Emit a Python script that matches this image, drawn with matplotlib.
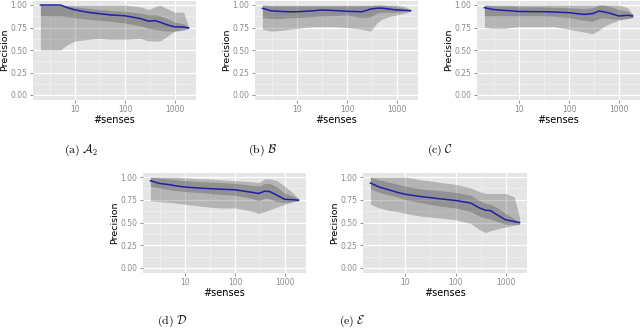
import numpy as np
import matplotlib
matplotlib.use("Agg")
import matplotlib.pyplot as plt

# --- data ---
senses = [2, 3, 5, 7, 10, 20, 30, 50, 100, 200, 300, 400, 500, 700, 1000, 1500, 1900]

a_mean = [1.0, 1.0, 1.0, 0.97, 0.945, 0.915, 0.905, 0.89, 0.88, 0.85, 0.82, 0.826, 0.81, 0.78, 0.757, 0.755, 0.745]
a_in_hi = [1.0, 1.0, 1.0, 0.99, 0.98, 0.96, 0.95, 0.94, 0.93, 0.91, 0.89, 0.89, 0.88, 0.85, 0.81, 0.79, 0.76]
a_in_lo = [0.88, 0.88, 0.88, 0.87, 0.86, 0.84, 0.83, 0.82, 0.80, 0.77, 0.74, 0.73, 0.72, 0.71, 0.71, 0.72, 0.74]
a_out_hi = [1.0, 1.0, 1.0, 1.0, 1.0, 1.0, 1.0, 1.0, 1.0, 0.98, 0.95, 0.98, 1.0, 0.96, 0.92, 0.92, 0.76]
a_out_lo = [0.5, 0.5, 0.5, 0.56, 0.6, 0.62, 0.63, 0.62, 0.62, 0.63, 0.6, 0.6, 0.6, 0.65, 0.71, 0.73, 0.74]

b_mean = [0.963, 0.935, 0.928, 0.925, 0.925, 0.935, 0.944, 0.94, 0.93, 0.925, 0.955, 0.965, 0.965, 0.955, 0.945, 0.94, 0.937]
b_in_hi = [1.0, 0.99, 0.99, 0.99, 0.99, 0.99, 0.99, 0.99, 0.99, 0.99, 0.995, 1.0, 1.0, 0.99, 0.98, 0.96, 0.94]
b_in_lo = [0.86, 0.85, 0.85, 0.86, 0.86, 0.87, 0.88, 0.88, 0.89, 0.86, 0.87, 0.91, 0.92, 0.92, 0.92, 0.93, 0.935]
b_out_hi = [1.0, 1.0, 1.0, 1.0, 1.0, 1.0, 1.0, 1.0, 1.0, 1.0, 1.0, 1.0, 1.0, 1.0, 1.0, 0.98, 0.95]
b_out_lo = [0.73, 0.71, 0.72, 0.73, 0.74, 0.76, 0.76, 0.76, 0.75, 0.73, 0.71, 0.80, 0.84, 0.87, 0.89, 0.91, 0.93]

c_mean = [0.97, 0.95, 0.94, 0.935, 0.928, 0.926, 0.926, 0.922, 0.915, 0.895, 0.905, 0.933, 0.925, 0.905, 0.878, 0.885, 0.878]
c_in_hi = [1.0, 0.99, 0.99, 0.99, 0.98, 0.98, 0.98, 0.975, 0.97, 0.96, 0.97, 1.0, 1.0, 0.98, 0.95, 0.93, 0.9]
c_in_lo = [0.88, 0.88, 0.88, 0.88, 0.88, 0.88, 0.88, 0.875, 0.86, 0.83, 0.82, 0.85, 0.86, 0.85, 0.84, 0.85, 0.86]
c_out_hi = [1.0, 1.0, 1.0, 1.0, 1.0, 1.0, 1.0, 1.0, 1.0, 1.0, 1.0, 1.0, 1.0, 1.0, 1.0, 0.97, 0.9]
c_out_lo = [0.75, 0.74, 0.74, 0.75, 0.76, 0.76, 0.76, 0.76, 0.73, 0.70, 0.68, 0.72, 0.76, 0.80, 0.83, 0.85, 0.86]

d_mean = [0.96, 0.93, 0.915, 0.9, 0.89, 0.878, 0.873, 0.867, 0.86, 0.835, 0.82, 0.845, 0.84, 0.80, 0.755, 0.75, 0.745]
d_in_hi = [1.0, 0.99, 0.98, 0.97, 0.96, 0.95, 0.945, 0.94, 0.93, 0.91, 0.90, 0.93, 0.93, 0.89, 0.82, 0.79, 0.76]
d_in_lo = [0.9, 0.88, 0.86, 0.85, 0.84, 0.83, 0.82, 0.81, 0.80, 0.77, 0.74, 0.77, 0.76, 0.73, 0.72, 0.73, 0.74]
d_out_hi = [1.0, 1.0, 1.0, 1.0, 0.99, 0.98, 0.98, 0.97, 0.96, 0.95, 0.94, 0.98, 0.98, 0.96, 0.9, 0.82, 0.76]
d_out_lo = [0.74, 0.73, 0.72, 0.71, 0.70, 0.68, 0.67, 0.66, 0.66, 0.63, 0.60, 0.62, 0.64, 0.67, 0.70, 0.73, 0.74]

e_mean = [0.934, 0.89, 0.855, 0.83, 0.81, 0.786, 0.775, 0.76, 0.742, 0.715, 0.66, 0.635, 0.63, 0.58, 0.53, 0.51, 0.50]
e_in_hi = [1.0, 0.97, 0.94, 0.92, 0.90, 0.87, 0.86, 0.85, 0.83, 0.80, 0.74, 0.71, 0.70, 0.66, 0.60, 0.54, 0.50]
e_in_lo = [0.87, 0.83, 0.80, 0.78, 0.75, 0.72, 0.70, 0.68, 0.66, 0.62, 0.57, 0.55, 0.54, 0.51, 0.48, 0.48, 0.48]
e_out_hi = [1.0, 1.0, 1.0, 1.0, 1.0, 0.97, 0.96, 0.94, 0.92, 0.88, 0.84, 0.82, 0.82, 0.82, 0.82, 0.78, 0.55]
e_out_lo = [0.70, 0.66, 0.63, 0.62, 0.60, 0.57, 0.56, 0.55, 0.53, 0.49, 0.42, 0.39, 0.41, 0.43, 0.45, 0.47, 0.48]

captions = [r'$\mathrm{(a)}\ \mathcal{A}_2$', r'$\mathrm{(b)}\ \mathcal{B}$', r'$\mathrm{(c)}\ \mathcal{C}$',
            r'$\mathrm{(d)}\ \mathcal{D}$', r'$\mathrm{(e)}\ \mathcal{E}$']
x_ticks = [10, 100, 1000]
y_ticks = [0.0, 0.25, 0.5, 0.75, 1.0]

W, H = 640, 329
# panel boxes in pixels: left, right, top, bottom
boxes = [(33, 196, 0.5, 99.5), (255, 418, 0.5, 99.5), (477, 640, 0.5, 99.5),
         (143, 306, 172.5, 272.5), (363, 527, 172.5, 272.5)]
caption_pos = [(81, 150), (263, 150), (440, 150), (172, 321), (352, 321)]

plt.rcParams['mathtext.fontset'] = 'cm'
plt.rcParams['font.family'] = 'DejaVu Sans'

BG = '#e5e5e5'
RIBBON = '#333333'
LINE = '#2020aa'


def draw_panel(ax, mean, in_lo, in_hi, out_lo, out_hi):
    ax.set_facecolor(BG)
    # semi-transparent ribbons, grid shows through like ggplot
    ax.fill_between(senses, out_lo, out_hi, color=RIBBON, alpha=0.27, lw=0, zorder=2)
    ax.fill_between(senses, in_lo, in_hi, color=RIBBON, alpha=0.27, lw=0, zorder=3)
    ax.plot(senses, mean, color=LINE, lw=1.1, zorder=4)

    ax.set_xscale('log')
    lo, hi = np.log10(senses[0]), np.log10(senses[-1])
    pad = 0.05 * (hi - lo)
    ax.set_xlim(10 ** (lo - pad), 10 ** (hi + pad))
    ax.set_ylim(-0.05, 1.05)

    ax.set_xticks(x_ticks)
    ax.set_xticklabels([str(t) for t in x_ticks])
    ax.set_xticks([10 ** 0.5, 10 ** 1.5, 10 ** 2.5], minor=True)
    ax.set_yticks(y_ticks)
    ax.set_yticklabels([f'{t:.2f}' for t in y_ticks])
    ax.set_yticks([0.125, 0.375, 0.625, 0.875], minor=True)

    ax.grid(which='major', color='white', lw=0.9, zorder=1)
    ax.grid(which='minor', color='#f2f2f2', lw=0.5, zorder=1)
    for s in ax.spines.values():
        s.set_visible(False)
    ax.tick_params(which='major', length=2.5, width=0.6, color='#7f7f7f',
                   labelsize=5.5, labelcolor='#8a8a8a', pad=1.5)
    ax.tick_params(which='minor', length=0)
    ax.set_xlabel('#senses', fontsize=7, labelpad=1)
    ax.set_ylabel('Precision', fontsize=6.8, labelpad=1)


panels = [
    (a_mean, a_in_lo, a_in_hi, a_out_lo, a_out_hi),
    (b_mean, b_in_lo, b_in_hi, b_out_lo, b_out_hi),
    (c_mean, c_in_lo, c_in_hi, c_out_lo, c_out_hi),
    (d_mean, d_in_lo, d_in_hi, d_out_lo, d_out_hi),
    (e_mean, e_in_lo, e_in_hi, e_out_lo, e_out_hi),
]

fig = plt.figure(figsize=(W / 100, H / 100), dpi=100)
for (l, r, t, b), series, cap, (cx, cy) in zip(boxes, panels, captions, caption_pos):
    ax = fig.add_axes([l / W, 1 - b / H, (r - l) / W, (b - t) / H])
    draw_panel(ax, *series)
    fig.text(cx / W, 1 - cy / H, cap, fontsize=8.5, ha='center', va='center')

fig.savefig('out.png', dpi=100)
